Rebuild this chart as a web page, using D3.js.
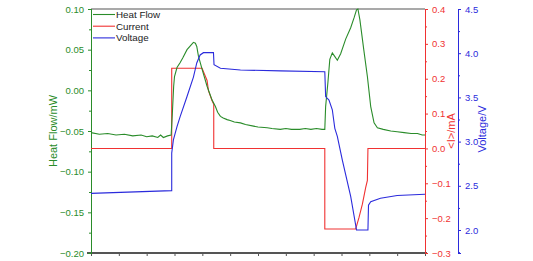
<!DOCTYPE html>
<html>
<head>
<meta charset="utf-8">
<script src="https://cdn.jsdelivr.net/npm/d3@7"></script>
<style>
  body { margin: 0; background: #fff; }
  svg { display: block; font-family: "Liberation Sans", Arial, sans-serif; }
  .domain { shape-rendering: crispEdges; }
</style>
</head>
<body>
<svg id="chart" width="533" height="261"></svg>
<script>
// time axis (no labels in the original)
var heatFlow = [
  [0, -0.052], [0.3, -0.054], [0.6, -0.053], [0.9, -0.055], [1.2, -0.054],
  [1.5, -0.056], [1.8, -0.055], [2.0, -0.057], [2.2, -0.056], [2.4, -0.058],
  [2.5, -0.055], [2.6, -0.058], [2.75, -0.056], [2.88, -0.055], [2.92, -0.030],
  [2.97, 0.005], [3.0, 0.017], [3.09, 0.028], [3.2, 0.034], [3.3, 0.040],
  [3.45, 0.050], [3.6, 0.056], [3.68, 0.059], [3.75, 0.058], [3.8, 0.054],
  [3.86, 0.042], [3.99, 0.026], [4.17, 0.005], [4.35, -0.012], [4.47, -0.020],
  [4.55, -0.027], [4.65, -0.032], [4.75, -0.034], [4.89, -0.036], [5.0, -0.037],
  [5.15, -0.039], [5.37, -0.040], [5.55, -0.042], [5.84, -0.044], [6.0, -0.045],
  [6.33, -0.046], [6.5, -0.047], [6.8, -0.048], [7.0, -0.047], [7.2, -0.048],
  [7.5, -0.048], [7.7, -0.047], [7.9, -0.048], [8.1, -0.047], [8.3, -0.048],
  [8.40, -0.048], [8.43, -0.020], [8.51, 0.009], [8.58, 0.038], [8.67, 0.046],
  [8.75, 0.042], [8.85, 0.037], [8.97, 0.045], [9.15, 0.063], [9.33, 0.077],
  [9.45, 0.089], [9.54, 0.099], [9.59, 0.100], [9.66, 0.087], [9.8, 0.050],
  [9.93, 0.017], [10.05, -0.020], [10.17, -0.040], [10.29, -0.046], [10.5, -0.048],
  [10.77, -0.050], [11.0, -0.051], [11.25, -0.052], [11.5, -0.053], [11.73, -0.053],
  [11.9, -0.055], [12.0, -0.055]
];

var current = [
  [0, 0], [2.9, 0], [2.9, 0.23], [3.99, 0.23], [4.17, 0.195], [4.22, 0.166],
  [4.35, 0.137], [4.41, 0.127], [4.41, 0], [8.40, 0], [8.40, -0.231],
  [9.51, -0.231], [9.63, -0.198], [9.75, -0.160], [9.87, -0.112], [9.93, -0.092],
  [9.95, 0], [12, 0]
];

var voltage = [
  [0, 2.415], [2.9, 2.445], [2.9, 2.87], [2.96, 3.02], [3.09, 3.17], [3.2, 3.28],
  [3.45, 3.51], [3.68, 3.73], [3.80, 3.89], [3.92, 3.98], [4.04, 4.006],
  [4.40, 4.006], [4.42, 3.87], [4.65, 3.83], [5.37, 3.81], [6.81, 3.80],
  [8.40, 3.79], [8.43, 3.51], [8.55, 3.47], [8.67, 3.36], [8.76, 3.15],
  [8.85, 3.06], [9.03, 2.79], [9.33, 2.38], [9.54, 2.0], [9.95, 2.0],
  [9.97, 2.28], [10.05, 2.32], [10.4, 2.36], [11.0, 2.39], [12.0, 2.404]
];

var heatTicks = [0.10, 0.05, 0.00, -0.05, -0.10, -0.15, -0.20];
var currentTicks = [0.4, 0.3, 0.2, 0.1, 0.0, -0.1, -0.2, -0.3];
var voltageTicks = [4.5, 4.0, 3.5, 3.0, 2.5, 2.0];

var legendNames = ["Heat Flow", "Current", "Voltage"];

var green = "#2a8c2a", red = "#f03232", blue = "#2b2bdc";
var colors = [green, red, blue];

var svg = d3.select("#chart");
var plotL = 91, plotR = 425, plotT = 9, plotB = 253;

var x = d3.scaleLinear().domain([0, 12]).range([plotL, plotR]);
var yHeat = d3.scaleLinear().domain([-0.20, 0.10]).range([plotB, plotT]);
var yCur = d3.scaleLinear().domain([-0.3, 0.4]).range([plotB, plotT]);
var yVolt = d3.scaleLinear().domain([1.74, 4.5]).range([plotB, plotT]);

function styleAxis(g, color) {
  g.selectAll("path.domain").attr("stroke", color).attr("stroke-width", 1.2);
  g.selectAll(".tick line").attr("stroke", color);
  g.selectAll(".tick text").attr("fill", color).attr("font-size", "9.5px")
    .attr("font-family", "Liberation Sans, Arial, sans-serif");
}

// top frame line
svg.append("line")
  .attr("x1", plotL).attr("x2", plotR).attr("y1", plotT).attr("y2", plotT)
  .attr("stroke", "#555").attr("stroke-width", 1.2);

// bottom axis (ticks only)
var gx = svg.append("g").attr("transform", "translate(0," + plotB + ")");
gx.call(d3.axisBottom(x).tickValues(d3.range(0, 13, 1)).tickSize(3).tickFormat(""));
gx.select("path.domain").attr("d", "M" + (plotL - 4) + ",0H" + (plotR + 2));
styleAxis(gx, "#555");

// minor ticks helper
function minors(ticks) {
  var out = [];
  for (var i = 0; i < ticks.length - 1; i++) out.push((ticks[i] + ticks[i + 1]) / 2);
  return out;
}

// left heat flow axis
var gl = svg.append("g").attr("transform", "translate(" + plotL + ",0)");
gl.append("g").call(d3.axisLeft(yHeat).tickValues(minors(heatTicks)).tickSize(2).tickFormat(""));
gl.append("g").call(d3.axisLeft(yHeat).tickValues(heatTicks).tickSize(3).tickPadding(4)
  .tickFormat(d3.format(".2f")));
styleAxis(gl, green);

// red current axis
var gr = svg.append("g").attr("transform", "translate(" + plotR + ",0)");
gr.append("g").call(d3.axisRight(yCur).tickValues(minors(currentTicks)).tickSize(2).tickFormat(""));
gr.append("g").call(d3.axisRight(yCur).tickValues(currentTicks).tickSize(3).tickPadding(4)
  .tickFormat(d3.format(".1f")));
styleAxis(gr, red);

// blue voltage axis
var gv = svg.append("g").attr("transform", "translate(458,0)");
gv.append("g").call(d3.axisRight(yVolt).tickValues([4.25, 3.75, 3.25, 2.75, 2.25, 1.75]).tickSize(2).tickFormat(""));
gv.append("g").call(d3.axisRight(yVolt).tickValues(voltageTicks).tickSize(3).tickPadding(4)
  .tickFormat(d3.format(".1f")));
styleAxis(gv, blue);

// axis titles
function title(txt, cx, cy, color) {
  svg.append("text")
    .attr("transform", "translate(" + cx + "," + cy + ") rotate(-90)")
    .attr("text-anchor", "middle")
    .attr("dominant-baseline", "central")
    .attr("font-size", "11px")
    .attr("fill", color)
    .text(txt);
}
title("Heat Flow/mW", 53, 131, green);
title("<I>/mA", 451, 131, red);
title("Voltage/V", 482, 129, blue);

// data lines
var lineHeat = d3.line().x(function(d) { return x(d[0]); }).y(function(d) { return yHeat(d[1]); });
var lineCur = d3.line().x(function(d) { return x(d[0]); }).y(function(d) { return yCur(d[1]); });
var lineVolt = d3.line().x(function(d) { return x(d[0]); }).y(function(d) { return yVolt(d[1]); });

svg.append("path").datum(current).attr("d", lineCur)
  .attr("fill", "none").attr("stroke", red).attr("stroke-width", 1.1);
svg.append("path").datum(heatFlow).attr("d", lineHeat)
  .attr("fill", "none").attr("stroke", green).attr("stroke-width", 1.1);
svg.append("path").datum(voltage).attr("d", lineVolt)
  .attr("fill", "none").attr("stroke", blue).attr("stroke-width", 1.1);

// legend
var legend = svg.append("g");
legendNames.forEach(function(name, i) {
  var ly = 14.5 + i * 11.7;
  legend.append("line").attr("x1", 93).attr("x2", 115).attr("y1", ly).attr("y2", ly)
    .attr("stroke", colors[i]).attr("stroke-width", 1.1);
  legend.append("text").attr("x", 116).attr("y", ly)
    .attr("dominant-baseline", "central")
    .attr("font-size", "9.8px").attr("fill", "#222").text(name);
});
</script>
</body>
</html>
